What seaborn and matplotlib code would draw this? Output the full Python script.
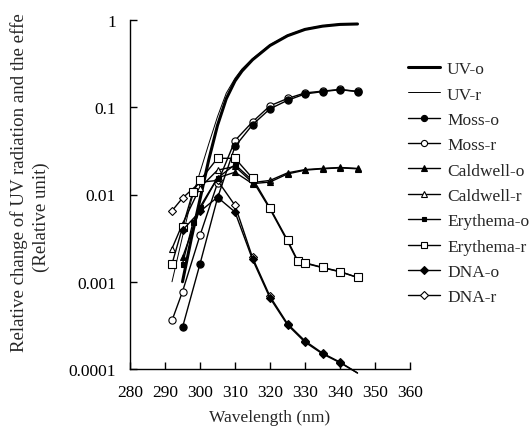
import matplotlib
matplotlib.use("Agg")
import matplotlib.pyplot as plt
import seaborn as sns
import pandas as pd
from matplotlib.ticker import FixedLocator, FixedFormatter

# ---------------- data ----------------
wl_uv_o = [295, 297.5, 300, 302.5, 305, 307.5, 310, 312, 315, 320, 325, 330, 335, 340, 345]
uv_o = [0.001, 0.0031, 0.0088, 0.025, 0.062, 0.125, 0.2, 0.26, 0.35, 0.51, 0.66, 0.78, 0.85, 0.89, 0.9]
wl_uv_r = [292, 295, 297.5, 300, 302.5, 305, 307.5, 310, 312, 315, 320, 325, 330, 335, 340, 345]
uv_r = [0.001, 0.0033, 0.0085, 0.018, 0.038, 0.078, 0.145, 0.215, 0.275, 0.36, 0.52, 0.67, 0.79, 0.86, 0.9, 0.9]

wl_o = [295, 300, 305, 310, 315, 320, 325, 330, 335, 340, 345]
wl_r = [292, 295, 300, 305, 310, 315, 320, 325, 330, 335, 340, 345]

moss_o = [0.0003, 0.0016, 0.0091, 0.0355, 0.063, 0.096, 0.12, 0.142, 0.151, 0.159, 0.151]
moss_r = [0.00036, 0.00077, 0.0034, 0.0135, 0.0415, 0.068, 0.104, 0.126, 0.146, 0.153, 0.16, 0.152]

cald_o = [0.0019, 0.0068, 0.0155, 0.018, 0.0133, 0.0139, 0.0172, 0.019, 0.0197, 0.0202, 0.0197]
cald_r = [0.0024, 0.0046, 0.012, 0.019, 0.021, 0.0137, 0.0145, 0.0177, 0.0193, 0.0199, 0.0204, 0.0199]

wl_ery_o = [295, 298, 300, 305, 310, 315, 320, 325, 328, 330, 335, 340, 345]
ery_o = [0.0016, 0.0048, 0.0072, 0.0155, 0.022, 0.0145, 0.0068, 0.0029, 0.00168, 0.00163, 0.00145, 0.0013, 0.00112]
wl_ery_r = [292, 295, 298, 300, 305, 310, 315, 320, 325, 328, 330, 335, 340, 345]
ery_r = [0.0016, 0.0042, 0.0108, 0.0145, 0.026, 0.026, 0.0154, 0.007, 0.003, 0.00172, 0.00165, 0.00146, 0.00131, 0.00112]

dna_o = [0.0039, 0.0064, 0.0093, 0.0063, 0.0018, 0.00065, 0.00032, 0.000203, 0.000149, 0.000118, 0.00009]
dna_r = [0.0065, 0.0091, 0.0138, 0.0145, 0.0075, 0.0019, 0.00068, 0.00033, 0.00021, 0.000152, 0.00012, 0.00009]

x_ticks = [280, 290, 300, 310, 320, 330, 340, 350, 360]
y_ticks = [0.0001, 0.001, 0.01, 0.1, 1]
y_tick_labels = ["0.0001", "0.001", "0.01", "0.1", "1"]

# ---------------- figure ----------------
sns.set_style("white")
plt.rcParams["font.family"] = ["Liberation Serif", "DejaVu Serif"]
FS = 12.5

fig = plt.figure(figsize=(5.29, 4.31), dpi=100)
ax = fig.add_axes([130 / 529, 61 / 431, 280 / 529, 349 / 431])

def draw(x, y, label, marker=None, ms=5, mfc="black", lw=1.0, z=2, clip=True, last_marker=True):
    df = pd.DataFrame({"wl": x, "val": y})
    kw = dict(color="black", linewidth=lw, zorder=z, clip_on=clip)
    if marker is not None:
        kw.update(marker=marker, markersize=ms, markerfacecolor=mfc,
                  markeredgecolor="black", markeredgewidth=0.8)
        if not last_marker:
            kw["markevery"] = list(range(len(x) - 1))
    sns.lineplot(data=df, x="wl", y="val", ax=ax, estimator=None, sort=False,
                 label=label, **kw)

draw(wl_uv_o, uv_o, "UV-o", lw=2.2, z=3)
draw(wl_uv_r, uv_r, "UV-r", lw=0.7, z=3)
draw(wl_o, moss_o, "Moss-o", "o", 5.2, "black", z=5)
draw(wl_r, moss_r, "Moss-r", "o", 5.2, "white", z=4)
draw(wl_o, cald_o, "Caldwell-o", "^", 4.3, "black", z=5)
draw(wl_r, cald_r, "Caldwell-r", "^", 4.3, "white", z=4)
draw(wl_ery_o, ery_o, "Erythema-o", "s", 3.6, "black", z=4)
draw(wl_ery_r, ery_r, "Erythema-r", "s", 5.8, "white", z=5)
draw(wl_o, dna_o, "DNA-o", "D", 4.3, "black", z=5, clip=False, last_marker=False)
draw(wl_r, dna_r, "DNA-r", "D", 4.3, "white", z=4, clip=False, last_marker=False)

ax.set_yscale("log")
ax.set_xlim(280, 360)
ax.set_ylim(0.0001, 1)
ax.xaxis.set_major_locator(FixedLocator(x_ticks))
ax.set_xticklabels([str(v) for v in x_ticks])
ax.yaxis.set_major_locator(FixedLocator(y_ticks))
ax.yaxis.set_major_formatter(FixedFormatter(y_tick_labels))
ax.yaxis.set_minor_locator(FixedLocator([]))

for s in ["top", "right"]:
    ax.spines[s].set_visible(False)
for s in ["left", "bottom"]:
    ax.spines[s].set_color("black")
    ax.spines[s].set_linewidth(1.0)
ax.tick_params(axis="both", which="major", direction="in", length=5, width=1,
               colors="black", labelsize=FS, left=True, bottom=True)
ax.tick_params(axis="y", pad=10)
ax.tick_params(axis="x", pad=11)
ax.grid(False)

ax.set_xlabel("Wavelength (nm)", fontsize=FS, labelpad=6)
ax.set_ylabel("")

fig.text(19 / 529, 1 - 352 / 431, "Relative change of UV radiation and the effe",
         rotation=90, ha="center", va="bottom", fontsize=13.6)
fig.text(41 / 529, 1 - 217 / 431, "(Relative unit)",
         rotation=90, ha="center", va="center", fontsize=13.6)

handles, labels = ax.get_legend_handles_labels()
ax.legend(handles, labels, loc="upper left", bbox_to_anchor=(408 / 529, 1 - 62 / 431),
          bbox_transform=fig.transFigure, frameon=False, fontsize=FS,
          handlelength=1.85, handletextpad=0.4, labelspacing=0.53, borderpad=0,
          borderaxespad=0, markerscale=0.85)

fig.savefig("out.png", dpi=100)
